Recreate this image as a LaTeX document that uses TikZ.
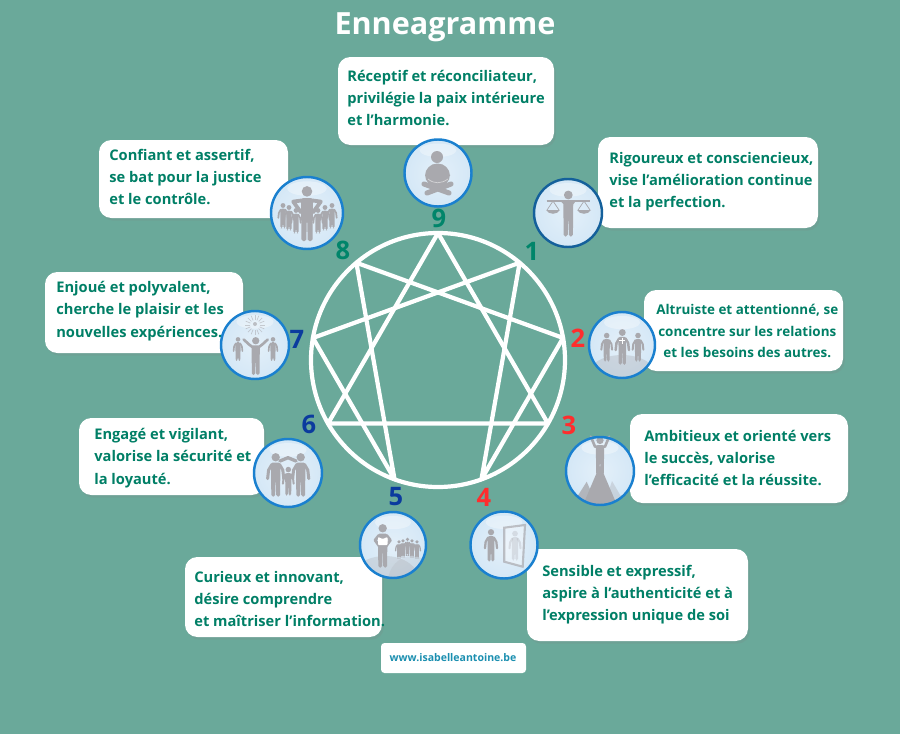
\documentclass[tikz,border=0pt]{standalone}
\usepackage{fontspec}
\setmainfont{Open Sans}
\usetikzlibrary{shadows}

\definecolor{bgteal}{HTML}{6AA99A}
\definecolor{txtgreen}{HTML}{007F66}
\definecolor{numgreen}{HTML}{00856A}
\definecolor{numred}{HTML}{FF2D2D}
\definecolor{numblue}{HTML}{0B3B9E}
\definecolor{webblue}{HTML}{1B8FB0}
\definecolor{figgrey}{HTML}{A9A9AE}
\definecolor{rimblue}{HTML}{1A80CF}

\pgfdeclareradialshading{glassball}{\pgfpoint{0bp}{0bp}}{
  color(0bp)=(white!88!rimblue);
  color(30bp)=(white!80!rimblue);
  color(43bp)=(white!58!rimblue);
  color(50bp)=(white!40!rimblue)}

\tikzset{
  bubble/.style={fill=white, rounded corners=7pt,
    drop shadow={opacity=0.18, shadow xshift=1pt, shadow yshift=-1.5pt}},
  txt/.style={right, inner sep=0pt, align=left, text=txtgreen,
    font=\fontsize{8.35}{12.6}\selectfont\bfseries},
  num/.style={font=\fontsize{14.5}{15}\selectfont\bfseries},
  ennea/.style={draw=white, line width=2.4pt, line join=round},
  rim/.style={draw=rimblue, line width=1.4pt},
  pics/person/.style n args={5}{code={
    \begin{scope}[scale=#1]
      \fill[figgrey] (0,4.5) circle (4.4);
      \fill[figgrey, rounded corners=1] (-5,10) -- (5,10) -- (4.6,46) -- (0.6,46) -- (0.2,29)
        -- (-0.2,29) -- (-0.6,46) -- (-4.6,46) -- cycle;
      \draw[figgrey, line width=#1*1.8pt, line cap=round, line join=round]
        (4,12) -- (#2,#3) -- (#4,#5) (-4,12) -- (-#2,#3) -- (-#4,#5);
    \end{scope}}}
}

\begin{document}
\begin{tikzpicture}[x=0.02cm, y=-0.02cm]
  \fill[bgteal] (0,0) rectangle (900,734);
  \useasboundingbox (0,0) rectangle (900,734);

  \node[text=white, font=\fontsize{17.4}{18}\selectfont\bfseries] (title) at (445,27) {Enneagramme};

  % text boxes
  \path[bubble] (338,57) rectangle (554,145);
  \path[bubble] (598,137) rectangle (818,228);
  \path[bubble] (99,140) rectangle (288,218);
  \path[bubble] (45,272) rectangle (243,353);
  \path[bubble] (644,290) rectangle (843,371);
  \path[bubble] (79,418) rectangle (264,495);
  \path[bubble] (630,414) rectangle (848,503);
  \path[bubble] (185,557) rectangle (382,637);
  \path[bubble] (527,549) rectangle (748,641);
  \path[fill=white, rounded corners=2pt] (381,643) rectangle (526,673);

  \node[txt] (txtnine) at (347,98) {Réceptif et réconciliateur,\\privilégie la paix intérieure\\et l’harmonie.};
  \node[txt] (txtone) at (609,182) {Rigoureux et consciencieux,\\vise l’amélioration continue\\et la perfection.};
  \node[txt] (txteight) at (109,177) {Confiant et assertif,\\se bat pour la justice\\et le contrôle.};
  \node[txt] (txtseven) at (56,311) {Enjoué et polyvalent,\\cherche le plaisir et les\\nouvelles expériences.};
  \node[txt, align=center, font=\fontsize{7.65}{12.2}\selectfont\bfseries] (txttwo) at (656,331) {Altruiste et attentionné, se\\concentre sur les relations\\et les besoins des autres.};
  \node[txt] (txtsix) at (94,458) {Engagé et vigilant,\\valorise la sécurité et\\la loyauté.};
  \node[txt] (txtthree) at (644,458) {Ambitieux et orienté vers\\le succès, valorise\\l’efficacité et la réussite.};
  \node[txt] (txtfive) at (194,599) {Curieux et innovant,\\désire comprendre\\et maîtriser l’information.};
  \node[txt] (txtfour) at (542,595) {Sensible et expressif,\\aspire à l’authenticité et à\\l’expression unique de soi};
  \node[text=webblue, font=\fontsize{6}{7}\selectfont\bfseries] (web) at (453,658) {www.isabelleantoine.be};

  % enneagram
  \foreach \n in {0,...,8}
    \coordinate (p\n) at ({438+127*sin(40*\n)},{360-127*cos(40*\n)});
  \draw[ennea] (438,360) circle (127);
  \draw[ennea] (p0)--(p3)--(p6)--cycle;
  \draw[ennea] (p1)--(p4)--(p2)--(p8)--(p5)--(p7)--cycle;

  \node[num, text=numgreen] (nine) at (439,218) {9};
  \node[num, text=numgreen] (one) at (532,251) {1};
  \node[num, text=numred] (two) at (578,338) {2};
  \node[num, text=numred] (three) at (569,425) {3};
  \node[num, text=numred] (four) at (484,497) {4};
  \node[num, text=numblue] (five) at (396,497) {5};
  \node[num, text=numblue] (six) at (309,424) {6};
  \node[num, text=numblue] (seven) at (297,339) {7};
  \node[num, text=numgreen] (eight) at (343,250) {8};

  % glass balls
  \foreach \n/\x/\y/\r in {c9/438/173/33.5, c1/568/213/34, c2/622/345/33, c3/600/471/34, c4/504/545/33.5, c5/393/545/33, c6/288/473/34, c7/255/345/34, c8/307/213/36} {
    \coordinate (\n) at (\x,\y);
    \shade[shading=glassball] (\n) circle (\r);
    \fill[white, opacity=0.35] (\x,\y-\r*0.68) ellipse ({\r*0.55} and {\r*0.2});
  }

  % 9
  \fill[figgrey] (437,157) circle (6);
  \fill[figgrey, rounded corners=7] (425,163.5) rectangle (450,187);
  \draw[figgrey, line width=2.9pt, line cap=round] (424,184) -- (449,193) (451,184) -- (427,193);
  \draw[white, opacity=0.5, thin] (428,179) .. controls (434,184) and (441,184) .. (448,179);

  % 1
  \pic at (568.3,190.5) {person={1}{5}{12}{5}{12}};
  \draw[figgrey, line width=1.3pt] (546.7,201) -- (590,201);
  \foreach \x in {553,584} {
    \draw[figgrey, thin] (\x-6,210) -- (\x,201) -- (\x+6,210);
    \fill[figgrey] (\x-7,210) .. controls (\x-4,215) and (\x+4,215) .. (\x+7,210) -- cycle;
  }

  % 8
  \foreach \x/\y in {283/203, 332/203, 289/205, 325/205, 296/208, 318/208}
    \pic at (\x,\y) {person={0.55}{7.5}{18}{8.5}{27}};
  \pic at (307,186) {person={1.2}{11.5}{13}{5}{22}};

  % 7
  \foreach \a in {0,22.5,...,337.5}
    \draw[figgrey, opacity=0.55, thin] ({255+5*cos(\a)},{325+5*sin(\a)}) -- ({255+10*cos(\a)},{325+10*sin(\a)});
  \fill[figgrey, opacity=0.7] (255,324) circle (2);
  \foreach \x in {238,273}
    \pic at (\x,337) {person={0.52}{7.5}{18}{8.5}{27}};
  \pic at (255.7,337) {person={0.83}{8}{9}{14.5}{3}};

  % 6
  \draw[figgrey, line width=1.9pt, line cap=round, line join=round] (280,461) -- (288,457.7) -- (296,461);
  \pic at (275.7,453) {person={0.95}{7.5}{18}{8.5}{27}};
  \pic at (300.7,453) {person={0.95}{7.5}{18}{8.5}{27}};
  \pic at (288.3,466.7) {person={0.63}{7.5}{18}{8.5}{27}};

  % 2
  \begin{scope}
    \clip (c2) circle (33);
    \fill[figgrey, opacity=0.35] (622,375) ellipse (34 and 20);
  \end{scope}
  \pic at (606.7,332.7) {person={0.63}{7.5}{18}{8.5}{27}};
  \pic at (638,332.7) {person={0.63}{7.5}{18}{8.5}{27}};
  \pic at (622.3,329) {person={0.78}{7.5}{18}{8.5}{27}};
  \draw[white, line width=0.8pt] (622.3,337.5) -- (622.3,343.5) (619.3,340.5) -- (625.3,340.5);

  % 3
  \begin{scope}
    \clip (c3) circle (34);
    \fill[figgrey, opacity=0.35] (604,505) -- (612,481) -- (626,505) -- cycle;
    \fill[figgrey] (583,505) -- (600,465) -- (617,505) -- cycle;
    \fill[figgrey, opacity=0.8] (572,505) -- (586.7,481.7) -- (597,505) -- cycle;
  \end{scope}
  \pic at (600,436.7) {person={0.83}{6}{12}{11}{0}};

  % 4
  \path[fill=white, fill opacity=0.35, draw=figgrey, line width=1.2pt, draw opacity=0.7] (504.3,527.7) -- (525,525) -- (522.7,566.7) -- (504.3,561.7) -- cycle;
  \pic[opacity=0.3] at (515,530.7) {person={0.65}{7.5}{18}{8.5}{27}};
  \pic at (491,529) {person={0.71}{7.5}{18}{8.5}{27}};

  % 5
  \begin{scope}
    \clip (c5) circle (33);
    \fill[figgrey, opacity=0.3] (385,580) ellipse (34 and 24);
    \fill[figgrey, opacity=0.2] (412,582) ellipse (24 and 26);
  \end{scope}
  \foreach \x/\y in {399/540, 403/539, 407.5/537.5, 412/539, 417/540}
    \pic at (\x,\y) {person={0.4}{7.5}{18}{8.5}{27}};
  \pic at (382.7,524) {person={0.95}{8}{17}{3}{24}};
  \fill[white, rounded corners=0.5] (378,537) -- (382.7,539) -- (387.5,537) -- (387.5,545) -- (378,545) -- cycle;

  % rims on top
  \foreach \n/\r in {c9/33.5, c2/33, c3/34, c4/33.5, c5/33, c6/34, c7/34, c8/36}
    \draw[rim] (\n) circle (\r);
  \draw[rim, draw=rimblue!75!black] (c1) circle (34);
\end{tikzpicture}
\end{document}
